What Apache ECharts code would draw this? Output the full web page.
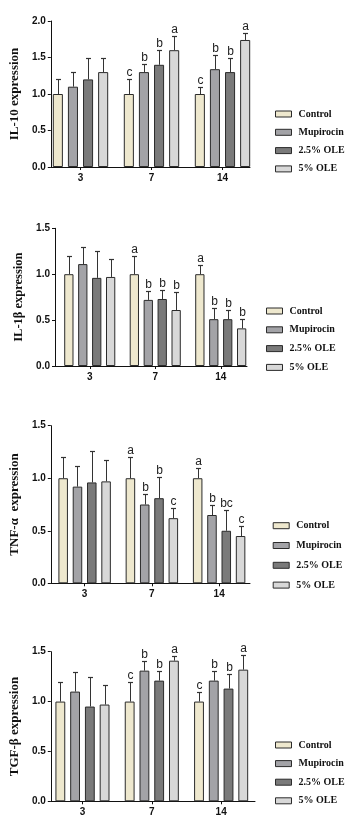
<!DOCTYPE html>
<html>
<head>
<meta charset="utf-8">
<script src="https://cdn.jsdelivr.net/npm/echarts@6/dist/echarts.min.js"></script>
<style>
html,body{margin:0;padding:0;background:#fff;}
#c{width:360px;height:821px;}
</style>
</head>
<body>
<div id="c"></div>
<script>
// ---------- data ----------
const days = ['3', '7', '14'];
const groups = ['Control', 'Mupirocin', '2.5% OLE', '5% OLE'];
const yTicks = ['0.0', '0.5', '1.0', '1.5', '2.0'];

// means per group, by day (3, 7, 14)
const il10Mean = [[1.0, 1.0, 1.0], [1.1, 1.3, 1.34], [1.2, 1.4, 1.3], [1.3, 1.6, 1.74]];
const il10Sd   = [[0.2, 0.2, 0.1], [0.2, 0.11, 0.2], [0.3, 0.2, 0.2], [0.2, 0.2, 0.1]];
const il10Sig  = [['', 'c', 'c'], ['', 'b', 'b'], ['', 'b', 'b'], ['', 'a', 'a']];

const il1bMean = [[1.0, 1.0, 1.0], [1.11, 0.72, 0.51], [0.96, 0.73, 0.51], [0.97, 0.61, 0.41]];
const il1bSd   = [[0.2, 0.2, 0.1], [0.19, 0.1, 0.12], [0.29, 0.1, 0.1], [0.2, 0.2, 0.1]];
const il1bSig  = [['', 'a', 'a'], ['', 'b', 'b'], ['', 'b', 'b'], ['', 'b', 'b']];

const tnfMean = [[1.0, 1.0, 1.0], [0.92, 0.75, 0.65], [0.96, 0.81, 0.5], [0.97, 0.62, 0.45]];
const tnfSd   = [[0.2, 0.2, 0.1], [0.2, 0.1, 0.1], [0.3, 0.2, 0.2], [0.2, 0.1, 0.1]];
const tnfSig  = [['', 'a', 'a'], ['', 'b', 'b'], ['', 'b', 'bc'], ['', 'c', 'c']];

const tgfMean = [[1.0, 1.0, 1.0], [1.1, 1.31, 1.21], [0.95, 1.21, 1.13], [0.97, 1.41, 1.32]];
const tgfSd   = [[0.2, 0.2, 0.1], [0.2, 0.1, 0.1], [0.3, 0.1, 0.15], [0.2, 0.05, 0.15]];
const tgfSig  = [['', 'c', 'c'], ['', 'b', 'b'], ['', 'b', 'b'], ['', 'a', 'a']];

// ---------- styling / layout ----------
const colors = ['#EEE8CE', '#A3A3A7', '#7A7A7A', '#D8D8D8'];
const edge = '#2b2b2b';
const CAT_GAP = 0.22, BAR_GAP = 0.5;

const panels = [
  {title: 'IL-10 expression', mean: il10Mean, sd: il10Sd, sig: il10Sig, max: 2.0,
   frameL: 45.7, frameR: 250, barL: 45, barW: 213, top: 21, h: 146, nameGap: 26, nameSize: 13,
   legL: 270, legTop: 103, legGap: 6.3},
  {title: 'IL-1β expression', mean: il1bMean, sd: il1bSd, sig: il1bSig, max: 1.5,
   frameL: 55, frameR: 247, barL: 57, barW: 196.5, top: 228.3, h: 137.7, nameGap: 20.5, nameSize: 12.5,
   legL: 261, legTop: 300, legGap: 6.8},
  {title: 'TNF-α  expression', mean: tnfMean, sd: tnfSd, sig: tnfSig, max: 1.5,
   frameL: 46.7, frameR: 250, barL: 51, barW: 201.75, top: 425.7, h: 157.6, nameGap: 18.5, nameSize: 13,
   legL: 267.7, legTop: 514.7, legGap: 7.8},
  {title: 'TGF-β expression', mean: tgfMean, sd: tgfSd, sig: tgfSig, max: 1.5,
   frameL: 47.7, frameR: 255, barL: 47.8, barW: 208, top: 651.7, h: 149.6, nameGap: 24.5, nameSize: 13,
   legL: 270, legTop: 734, legGap: 6.6}
];

const grid = [], xAxis = [], yAxis = [], series = [], legend = [];
const sansB = 'Liberation Sans';
const serif = 'Liberation Serif';

panels.forEach((p, pi) => {
  const fg = 2 * pi, bg = 2 * pi + 1;
  grid.push({left: p.frameL, top: p.top, width: p.frameR - p.frameL, height: p.h});
  grid.push({left: p.barL, top: p.top, width: p.barW, height: p.h});
  // frame axes
  xAxis.push({type: 'category', gridIndex: fg, data: days,
    axisLine: {show: true, lineStyle: {color: '#111', width: 1}},
    axisTick: {show: false}, axisLabel: {show: false}, splitLine: {show: false}});
  yAxis.push({type: 'value', gridIndex: fg, min: 0, max: p.max, interval: 0.5,
    axisLine: {show: true, lineStyle: {color: '#111', width: 1}},
    axisTick: {show: true, length: 3, lineStyle: {color: '#111'}},
    axisLabel: {show: true, margin: 5, fontFamily: sansB, fontWeight: 'bold', fontSize: 10, color: '#111',
      formatter: v => yTicks[Math.round(v / 0.5)]},
    splitLine: {show: false},
    name: p.title, nameLocation: 'middle', nameGap: p.nameGap,
    nameTextStyle: {fontFamily: serif, fontWeight: 'bold', fontSize: p.nameSize, color: '#111'}});
  // bar axes
  xAxis.push({type: 'category', gridIndex: bg, data: days,
    axisLine: {show: false},
    axisTick: {show: true, alignWithLabel: true, length: 3, lineStyle: {color: '#111'}},
    axisLabel: {show: true, margin: 6, fontFamily: sansB, fontWeight: 'bold', fontSize: 10, color: '#111'},
    splitLine: {show: false}});
  yAxis.push({type: 'value', gridIndex: bg, min: 0, max: p.max, interval: 0.5, show: false,
    splitLine: {show: false}});

  groups.forEach((g, gi) => {
    series.push({
      type: 'bar', name: g, xAxisIndex: bg, yAxisIndex: bg,
      data: p.mean[gi],
      barGap: (BAR_GAP * 100) + '%', barCategoryGap: (CAT_GAP * 100) + '%',
      itemStyle: {color: colors[gi], borderColor: edge, borderWidth: 1},
      emphasis: {disabled: true}, animation: false, z: 2
    });
  });
  groups.forEach((g, gi) => {
    const sigs = p.sig[gi];
    series.push({
      type: 'custom', name: g, xAxisIndex: bg, yAxisIndex: bg,
      data: p.mean[gi].map((m, di) => [di, m, p.sd[gi][di]]),
      z: 3, animation: false, silent: true,
      renderItem: (params, api) => {
        const di = api.value(0), m = api.value(1), s = api.value(2);
        const base = api.coord([di, m]);
        const top = api.coord([di, m + s]);
        const band = api.size([1, 0])[0];
        const bw = band * (1 - CAT_GAP) / (4 + 3 * BAR_GAP);
        const x = Math.round(base[0] + (gi - 1.5) * bw * (1 + BAR_GAP)) + 0.5;
        const yt = Math.round(top[1]) + 0.5;
        const children = [
          {type: 'line', shape: {x1: x, y1: base[1], x2: x, y2: yt}, style: {stroke: '#333', lineWidth: 1}},
          {type: 'line', shape: {x1: x - 2.5, y1: yt, x2: x + 2.5, y2: yt}, style: {stroke: '#333', lineWidth: 1.2}}
        ];
        const lab = sigs[params.dataIndex];
        if (lab) {
          children.push({type: 'text', style: {text: lab, x: x, y: yt - 1, align: 'center', verticalAlign: 'bottom',
            fontFamily: sansB, fontSize: 12, fill: '#222'}});
        }
        return {type: 'group', children: children};
      }
    });
  });

  legend.push({
    orient: 'vertical', left: p.legL, top: p.legTop, itemGap: p.legGap,
    itemWidth: 16, itemHeight: 6, selectedMode: false,
    data: groups.map((g, gi) => ({name: g, icon: 'rect',
      itemStyle: {color: colors[gi], borderColor: edge, borderWidth: 1}})),
    textStyle: {fontFamily: serif, fontWeight: 'bold', fontSize: 10, color: '#111', lineHeight: 12, padding: [0, 0, 0, 2]}
  });
});

const chart = echarts.init(document.getElementById('c'), null, {renderer: 'canvas'});
chart.setOption({backgroundColor: '#fff', animation: false, grid, xAxis, yAxis, series, legend});
</script>
</body>
</html>
